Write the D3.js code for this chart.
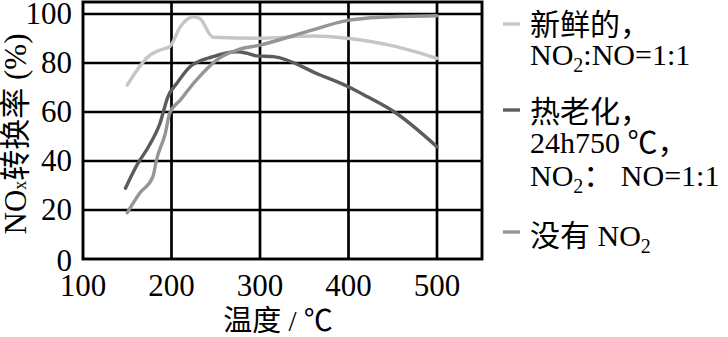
<!DOCTYPE html>
<html>
<head>
<meta charset="utf-8">
<script src="https://cdn.jsdelivr.net/npm/d3@7"></script>
<style>
  body { margin: 0; background: #fff; }
  svg { display: block; }
  text { font-family: "Liberation Serif", "Times New Roman", "DejaVu Serif", serif; fill: #000; }
  .cjk { font-family: "Noto Sans CJK SC", sans-serif; }
</style>
</head>
<body>
<svg id="chart" width="728" height="337"></svg>
<script>
// temperature (℃) / NOx conversion (%)
var freshTemp = [150, 175, 187, 198, 210, 225, 232, 247, 300, 360, 398, 454, 500];
var freshVal  = [71, 83, 85.3, 86.7, 94.8, 98.9, 98.2, 90.5, 90.1, 91, 90.1, 86.7, 81.9];

var agedTemp = [148, 162, 174, 187, 196, 206, 221, 247, 274, 285, 296, 315, 368, 398, 421, 454, 500];
var agedVal  = [28.9, 39, 45.8, 55.4, 66.3, 71.7, 78.5, 82.6, 84.6, 84, 82.9, 82.6, 75.1, 70.6, 66.3, 59.5, 45.8];

var noNo2Temp = [150, 164, 179, 183, 193, 198, 210, 228, 251, 274, 300, 353, 398, 436, 500];
var noNo2Val  = [18.9, 26.8, 33.6, 40.4, 51.3, 59.5, 64.9, 73, 81.2, 85.3, 87.3, 92.8, 97.3, 98.7, 99.3];

var xTicks = [100, 200, 300, 400, 500];
var yTicks = [0, 20, 40, 60, 80, 100];

var series = [
  {name: "fresh", temp: freshTemp, val: freshVal, color: "#c6c6c6"},
  {name: "aged", temp: agedTemp, val: agedVal, color: "#5c5c5c"},
  {name: "noNo2", temp: noNo2Temp, val: noNo2Val, color: "#959595"}
];

var svg = d3.select("#chart");

var x = d3.scaleLinear().domain([100, 500]).range([83, 437]);
var y = d3.scaleLinear().domain([0, 100]).range([259, 14]);
var xMax = x.invert(482);
var yMax = y.invert(2);

// grid
var grid = svg.append("g").attr("stroke", "#000").attr("stroke-width", 2.7);
grid.selectAll("line.v")
  .data(xTicks.slice(1))
  .enter().append("line")
  .attr("x1", function(d) { return x(d); })
  .attr("x2", function(d) { return x(d); })
  .attr("y1", y(0)).attr("y2", y(yMax));
grid.selectAll("line.h")
  .data(yTicks.slice(1))
  .enter().append("line")
  .attr("x1", x(100)).attr("x2", x(xMax))
  .attr("y1", function(d) { return y(d); })
  .attr("y2", function(d) { return y(d); });
svg.append("rect")
  .attr("x", x(100)).attr("y", y(yMax))
  .attr("width", x(xMax) - x(100))
  .attr("height", y(0) - y(yMax))
  .attr("fill", "none").attr("stroke", "#000").attr("stroke-width", 2.9);

// curves
var line = d3.line()
  .x(function(d) { return x(d[0]); })
  .y(function(d) { return y(d[1]); })
  .curve(d3.curveMonotoneX);

svg.append("g").selectAll("path")
  .data(series)
  .enter().append("path")
  .attr("d", function(s) { return line(d3.zip(s.temp, s.val)); })
  .attr("fill", "none")
  .attr("stroke", function(s) { return s.color; })
  .attr("stroke-width", 3.4)
  .attr("stroke-linejoin", "round")
  .attr("stroke-linecap", "round");

// tick labels
svg.append("g").selectAll("text")
  .data(yTicks)
  .enter().append("text")
  .attr("x", 72)
  .attr("y", function(d) { return d === 0 ? y(d) + 12 : y(d) + 10; })
  .attr("text-anchor", "end")
  .attr("font-size", 31)
  .text(function(d) { return d; });

svg.append("g").selectAll("text")
  .data(xTicks)
  .enter().append("text")
  .attr("x", function(d) { return x(d); })
  .attr("y", 296)
  .attr("text-anchor", "middle")
  .attr("font-size", 31)
  .text(function(d) { return d; });

// axis titles
var xTitle = svg.append("text")
  .attr("x", 278).attr("y", 331)
  .attr("text-anchor", "middle")
  .attr("font-size", 29);
xTitle.append("tspan").attr("class", "cjk").text("温度");
xTitle.append("tspan").text(" / ");
xTitle.append("tspan").attr("class", "cjk").text("℃");

var yTitle = svg.append("text")
  .attr("transform", "translate(26,134) rotate(-90)")
  .attr("text-anchor", "middle")
  .attr("font-size", 31);
yTitle.append("tspan").text("NO");
yTitle.append("tspan").attr("font-size", 18).text("x");
yTitle.append("tspan").attr("class", "cjk").text("转换率");
yTitle.append("tspan").text(" (%)");

// legend
var legend = svg.append("g");
var legendMarks = [
  {y: 24, color: series[0].color},
  {y: 110, color: series[1].color},
  {y: 232, color: series[2].color}
];
legend.selectAll("line")
  .data(legendMarks)
  .enter().append("line")
  .attr("x1", 503).attr("x2", 520)
  .attr("y1", function(d) { return d.y; })
  .attr("y2", function(d) { return d.y; })
  .attr("stroke", function(d) { return d.color; })
  .attr("stroke-width", 3.4);

// parts: [text, kind] with kind "cjk", "sub" or plain
function legendRow(yPos, parts) {
  var t = legend.append("text").attr("x", 530).attr("y", yPos).attr("font-size", 30);
  var shift = 0;
  parts.forEach(function(p) {
    var s = t.append("tspan").text(p[0]);
    if (p[1] === "sub") {
      s.attr("font-size", 20).attr("dy", 7);
      shift = -7;
    } else {
      if (shift) { s.attr("dy", shift); shift = 0; }
      if (p[1] === "cjk") s.attr("class", "cjk");
    }
  });
}
legendRow(35, [["新鲜的，", "cjk"]]);
legendRow(65, [["NO"], ["2", "sub"], [":NO=1:1"]]);
legendRow(122, [["热老化，", "cjk"]]);
legendRow(153, [["24h750 "], ["℃，", "cjk"]]);
legendRow(186, [["NO"], ["2", "sub"], ["：", "cjk"], [" NO=1:1"]]);
legendRow(246, [["没有", "cjk"], [" NO"], ["2", "sub"]]);
</script>
</body>
</html>
